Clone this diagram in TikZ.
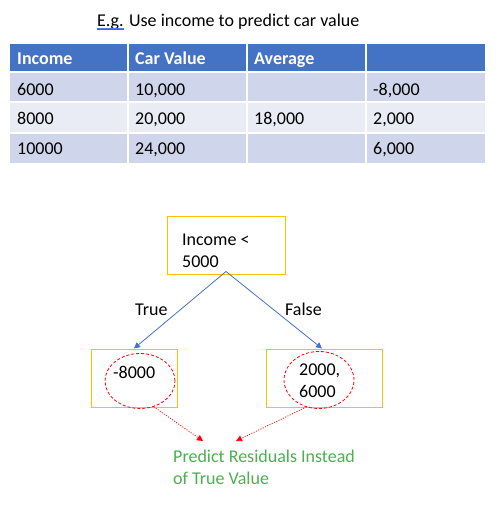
\documentclass[tikz,border=0pt]{standalone}
\usepackage{fontspec}
\setmainfont{Carlito}
\usetikzlibrary{arrows.meta,shapes.geometric}
\definecolor{hdr}{RGB}{68,114,196}
\definecolor{rowa}{RGB}{207,213,234}
\definecolor{rowb}{RGB}{233,235,245}
\definecolor{boxc}{RGB}{255,192,0}
\definecolor{grn}{RGB}{76,175,80}
\definecolor{spell}{RGB}{90,120,220}
\tikzset{
  txt/.style={anchor=base west,inner sep=0pt,font=\fontsize{18}{22}\selectfont},
  htxt/.style={txt,text=white,font=\fontsize{18}{22}\selectfont\bfseries},
  ybox/.style={draw=boxc,line width=1pt,inner sep=0pt},
  redell/.style={draw=red,dashed,dash pattern=on 3pt off 2pt,ellipse,inner sep=0pt,line width=0.8pt},
  barrow/.style={draw=hdr,line width=0.8pt,-{Triangle[width=6pt,length=6pt]}},
  rarrow/.style={draw=red,line width=0.8pt,dash pattern=on 1pt off 1.5pt,-{Triangle[width=6pt,length=6pt]}}
}
\begin{document}
\begin{tikzpicture}[x=1pt,y=-1pt]
\useasboundingbox (0,0) rectangle (497,509);
% title
\node[txt] (title) at (97,26) {E.g. Use income to predict car value};
\coordinate (ulA) at (97,29.5);
\coordinate (ulB) at (124,29.5);
\draw[line width=0.6pt,black!60] (ulA) -- (ulB);
\draw[line width=0.6pt,spell] ([yshift=1.5pt]ulA) -- ([yshift=1.5pt]ulB);
% table backgrounds
\fill[hdr] (10,44) rectangle (485,72);
\fill[rowa] (10,72) rectangle (485,102);
\fill[rowb] (10,102) rectangle (485,133);
\fill[rowa] (10,133) rectangle (485,163);
\foreach \x in {128,247,366} \draw[white,line width=1.5pt] (\x,44) -- (\x,163);
\foreach \y in {72,102,133} \draw[white,line width=1.5pt] (10,\y) -- (485,\y);
% header
\node[htxt] (h1) at (17,64) {Income};
\node[htxt] (h2) at (135,64) {Car Value};
\node[htxt] (h3) at (254,64) {Average};
% rows
\node[txt] (r1a) at (17,95) {6000};
\node[txt] (r1b) at (135,95) {10,000};
\node[txt] (r1d) at (373,95) {-8,000};
\node[txt] (r2a) at (17,124.5) {8000};
\node[txt] (r2b) at (135,124.5) {20,000};
\node[txt] (r2c) at (254,124.5) {18,000};
\node[txt] (r2d) at (373,124.5) {2,000};
\node[txt] (r3a) at (17,154) {10000};
\node[txt] (r3b) at (135,154) {24,000};
\node[txt] (r3d) at (373,154) {6,000};
% tree
\node[ybox,minimum width=118pt,minimum height=58pt] (root) at (226,245) {};
\node[txt] (rt1) at (182,245) {Income <};
\node[txt] (rt2) at (182,267) {5000};
\node[ybox,minimum width=86pt,minimum height=58pt] (leafL) at (134,378) {};
\node[ybox,minimum width=116pt,minimum height=58pt] (leafR) at (324,378) {};
\node[txt] (true) at (135,315) {True};
\node[txt] (false) at (285,315) {False};
\draw[barrow] ([yshift=3pt]root.south) -- (leafL.north);
\draw[barrow] ([yshift=3pt]root.south) -- ([xshift=-2pt]leafR.north);
\node[redell,minimum width=70pt,minimum height=55pt] (ellL) at (140,381) {};
\node[redell,minimum width=70pt,minimum height=57pt] (ellR) at (319,380) {};
\node[txt] (lt) at (113,378) {-8000};
\node[txt] (rt3) at (299,375) {2000,};
\node[txt] (rt4) at (299,397) {6000};
% green note
\node[txt,text=grn] (g1) at (173,462) {Predict Residuals Instead};
\node[txt,text=grn] (g2) at (173,484) {of True Value};
\coordinate (tipL) at (203,441);
\coordinate (tipR) at (236,441);
\draw[rarrow] (ellL.-62) -- (tipL);
\draw[rarrow] (ellR.-115) -- (tipR);
\end{tikzpicture}
\end{document}
